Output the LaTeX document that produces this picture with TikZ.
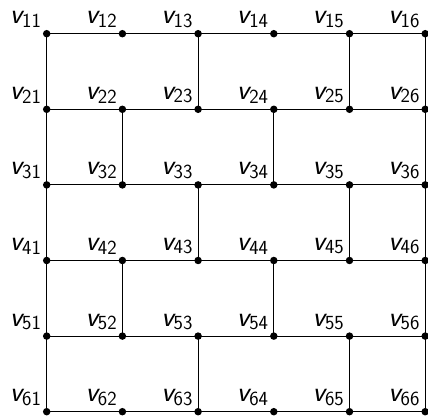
\documentclass[tikz,border=0pt]{standalone}
\usepackage{fontspec}
\begin{document}
\begin{tikzpicture}[x=1pt,y=1pt,
  vtx/.style={circle,fill=black,inner sep=0pt,minimum size=7.5pt},
  edge/.style={line width=1pt,black},
  lab/.style={anchor=south east,inner sep=0pt,font=\fontsize{28.5}{32}\selectfont\sffamily}]
\useasboundingbox (0,0) rectangle (428,415);
\foreach \i in {1,...,6}{
  \foreach \j in {1,...,6}{
    \coordinate (p\i\j) at ({46.7+75.7*(\j-1)},{415-33.7-75.6*(\i-1)});
  }
}
% horizontal edges
\foreach \i in {1,...,6}{
  \draw[edge] (p\i1) -- (p\i2) -- (p\i3) -- (p\i4) -- (p\i5) -- (p\i6);
}
% vertical edges
\draw[edge] (p11) -- (p61);
\draw[edge] (p16) -- (p66);
\foreach \a/\b in {13/23,15/25,22/32,24/34,33/43,35/45,42/52,44/54,53/63,55/65}{
  \draw[edge] (p\a) -- (p\b);
}
% vertices and labels
\foreach \i in {1,...,6}{
  \foreach \j in {1,...,6}{
    \node[vtx] (v\i\j) at (p\i\j) {};
    \node[lab] (l\i\j) at ([xshift=-5.5pt,yshift=6pt]p\i\j) {\itshape v\raisebox{-3.5pt}{\fontsize{20}{22}\selectfont\upshape\i\j}};
  }
}
\end{tikzpicture}
\end{document}
